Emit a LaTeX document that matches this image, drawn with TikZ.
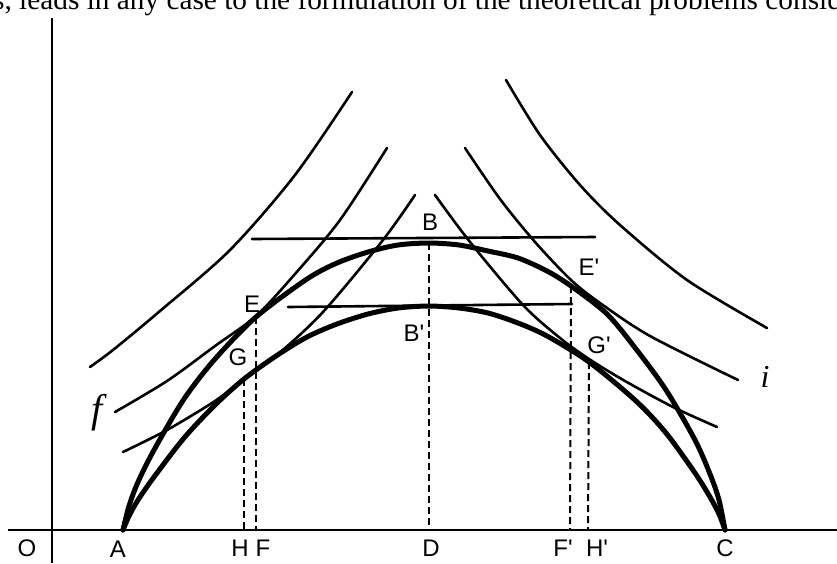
\documentclass[tikz,border=0pt]{standalone}
\usepackage{fontspec}
\setmainfont{Liberation Serif}
\newfontfamily\letterfont{Liberation Sans}

\begin{document}
\begin{tikzpicture}[x=1pt,y=-1pt,
    arch/.style={line width=5pt, line cap=round},
    level/.style={line width=2.6pt, line cap=round},
    drop/.style={line width=2pt, dash pattern=on 7pt off 4pt},
    lbl/.style={font=\letterfont\fontsize{24}{24}\selectfont, inner sep=0pt}]
    \useasboundingbox (0,0) rectangle (837,563);
    \clip (0,0) rectangle (837,563);
    % Line of text above, cut by the page
    \node[anchor=base west, inner sep=0pt, font=\fontsize{29.3}{30}\selectfont] (toptext) at (-7,9)
        {s, leads in any case to the formulation of the theoretical problems conside};
    % Axes
    \draw[line width=2.5pt] (8,530) -- (837,530);
    \draw[line width=2.5pt] (52,18) -- (52,563);
    % Points
    \coordinate (A) at (123,530); \coordinate (C) at (725,530);
    \coordinate (B) at (429,243); \coordinate (Bp) at (429,306);
    \coordinate (E) at (256,317); \coordinate (Ep) at (571,286);
    \coordinate (G) at (244,379); \coordinate (Gp) at (589,362);
    \coordinate (D) at (429,530); \coordinate (F) at (256,530); \coordinate (H) at (244,530);
    \coordinate (Fp) at (570,530); \coordinate (Hp) at (588,530);
    % Thin curves, left and right
    \draw[level] plot[smooth] coordinates {(90,367) (113,350) (160,311) (230,250) (295,175) (352,92)};
    \draw[level] plot[smooth] coordinates {(115,412) (167,381) (215,346) (256,316) (295,274) (340,220) (387,148)};
    \draw[level] plot[smooth] coordinates {(123,452) (167,430) (215,401) (244,379) (277,355) (323,312) (383,240) (415,195)};
    \draw[level] plot[smooth] coordinates {(506,80) (540,135) (580,185) (620,225) (687,280) (767,328)};
    \draw[level] plot[smooth] coordinates {(465,148) (500,199) (535,242) (571,280) (600,303) (650,336) (738,380)};
    \draw[level] plot[smooth] coordinates {(435,195) (470,242) (523,305) (560,338) (589,359) (625,381) (673,407) (717,427)};
    % Tangents at the tops
    \draw[level] (252,239) -- (595,237);
    \draw[level] (288,307) -- (572,304);
    % The two arches
    \draw[arch] plot[smooth] coordinates {(A) (129,506) (138,482) (154,450) (184,399) (215,359) (E) (307,279)
        (337,263) (368,252) (398,245) (B) (459,245) (488,251) (518,258) (547,271) (Ep) (607,314)
        (636,349) (666,390) (695,440) (710,474) (719,500) (C)};
    \draw[arch] plot[smooth] coordinates {(A) (129,516) (138,500) (154,477) (184,438) (215,405) (G) (276,356)
        (307,337) (337,324) (368,314) (398,308) (Bp) (459,308) (488,313) (518,323) (547,336) (Gp)
        (636,401) (666,433) (695,473) (710,497) (719,514) (C)};
    % Drops to the axis
    \draw[drop] (B) -- (D);
    \draw[drop] (E) -- (F);
    \draw[drop] (G) -- (H);
    \draw[drop] (Ep) -- (Fp);
    \draw[drop] (Gp) -- (Hp);
    % Labels
    \node[lbl] (lO) at (27,548) {O};   \node[lbl] (lA) at (118,549) {A};
    \node[lbl] (lH) at (240,548) {H};  \node[lbl] (lF) at (263,548) {F};
    \node[lbl] (lD) at (431,548) {D};  \node[lbl] (lFp) at (563,548) {F'};
    \node[lbl] (lHp) at (597,548) {H'}; \node[lbl] (lC) at (725,548) {C};
    \node[lbl] (lB) at (430,222) {B};  \node[lbl] (lBp) at (414,333) {B'};
    \node[lbl] (lE) at (252,304) {E};  \node[lbl] (lEp) at (589,267) {E'};
    \node[lbl] (lG) at (238,357) {G};  \node[lbl] (lGp) at (599,345) {G'};
    \node[inner sep=0pt, font=\itshape\fontsize{40}{40}\selectfont] (lf) at (97,413) {f};
    \node[inner sep=0pt, font=\itshape\fontsize{32}{32}\selectfont] (li) at (765,377) {i};
\end{tikzpicture}
\end{document}
